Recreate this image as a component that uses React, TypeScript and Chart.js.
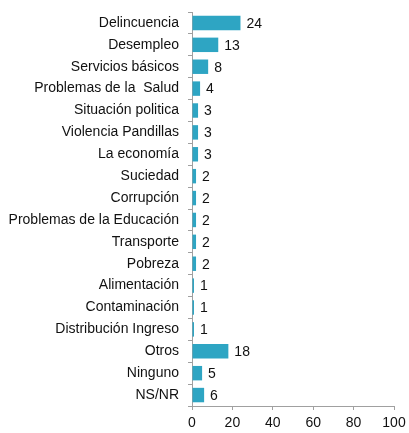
import React, { useEffect, useRef } from "react";
import { Chart, registerables } from "chart.js";

Chart.register(...registerables);

const categories = [
  "Delincuencia",
  "Desempleo",
  "Servicios básicos",
  "Problemas de la  Salud",
  "Situación politica",
  "Violencia Pandillas",
  "La economía",
  "Suciedad",
  "Corrupción",
  "Problemas de la Educación",
  "Transporte",
  "Pobreza",
  "Alimentación",
  "Contaminación",
  "Distribución Ingreso",
  "Otros",
  "Ninguno",
  "NS/NR",
];
const values = [24, 13, 8, 4, 3, 3, 3, 2, 2, 2, 2, 2, 1, 1, 1, 18, 5, 6];
const xTicks = [0, 20, 40, 60, 80, 100];

const FONT = "'Liberation Sans', Arial, sans-serif";

const valueLabels = {
  id: "valueLabels",
  afterDatasetsDraw(chart: any) {
    const ctx = chart.ctx;
    const meta = chart.getDatasetMeta(0);
    ctx.save();
    ctx.font = `14px ${FONT}`;
    ctx.fillStyle = "#111";
    ctx.textAlign = "left";
    ctx.textBaseline = "middle";
    meta.data.forEach((bar: any, i: number) => {
      ctx.fillText(String(values[i]), bar.x + 6, bar.y + 1);
    });
    ctx.restore();
  },
};

export default function App() {
  const ref = useRef<HTMLCanvasElement>(null);
  useEffect(() => {
    if (!ref.current) return;
    const chart = new Chart(ref.current, {
      type: "bar",
      data: {
        labels: categories,
        datasets: [
          {
            data: values,
            backgroundColor: "#2ea5c3",
            borderWidth: 0,
            barPercentage: 1,
            categoryPercentage: 0.66,
          },
        ],
      },
      options: {
        indexAxis: "y",
        animation: false,
        responsive: false,
        maintainAspectRatio: false,
        layout: { padding: { top: 12, right: 15, left: 0, bottom: 0 } },
        plugins: { legend: { display: false }, tooltip: { enabled: false } },
        scales: {
          x: {
            min: 0,
            max: 100,
            afterBuildTicks(scale: any) {
              scale.ticks = xTicks.map((v) => ({ value: v }));
            },
            afterFit(scale: any) {
              scale.height = 27;
              scale.paddingLeft = 0;
              scale.paddingRight = 0;
            },
            grid: {
              drawOnChartArea: false,
              drawTicks: true,
              tickLength: 4,
              color: "#a0a0a0",
            },
            border: { color: "#a0a0a0" },
            ticks: {
              color: "#111",
              font: { family: FONT, size: 14 },
              padding: 5,
              maxRotation: 0,
            },
          },
          y: {
            offset: true,
            afterFit(scale: any) {
              scale.width = 192;
              scale.paddingTop = 0;
              scale.paddingBottom = 0;
            },
            grid: {
              offset: true,
              drawOnChartArea: false,
              drawTicks: true,
              tickLength: 4,
              color: "#a0a0a0",
            },
            border: { color: "#a0a0a0" },
            ticks: {
              color: "#111",
              font: { family: FONT, size: 14 },
              padding: 9,
              autoSkip: false,
            },
          },
        },
      },
      plugins: [valueLabels],
    });
    return () => chart.destroy();
  }, []);
  return (
    <div style={{ position: "fixed", left: 0, top: 0, width: 409, height: 433, background: "#fff" }}>
      <canvas ref={ref} width={409} height={433} style={{ width: 409, height: 433 }} />
    </div>
  );
}
